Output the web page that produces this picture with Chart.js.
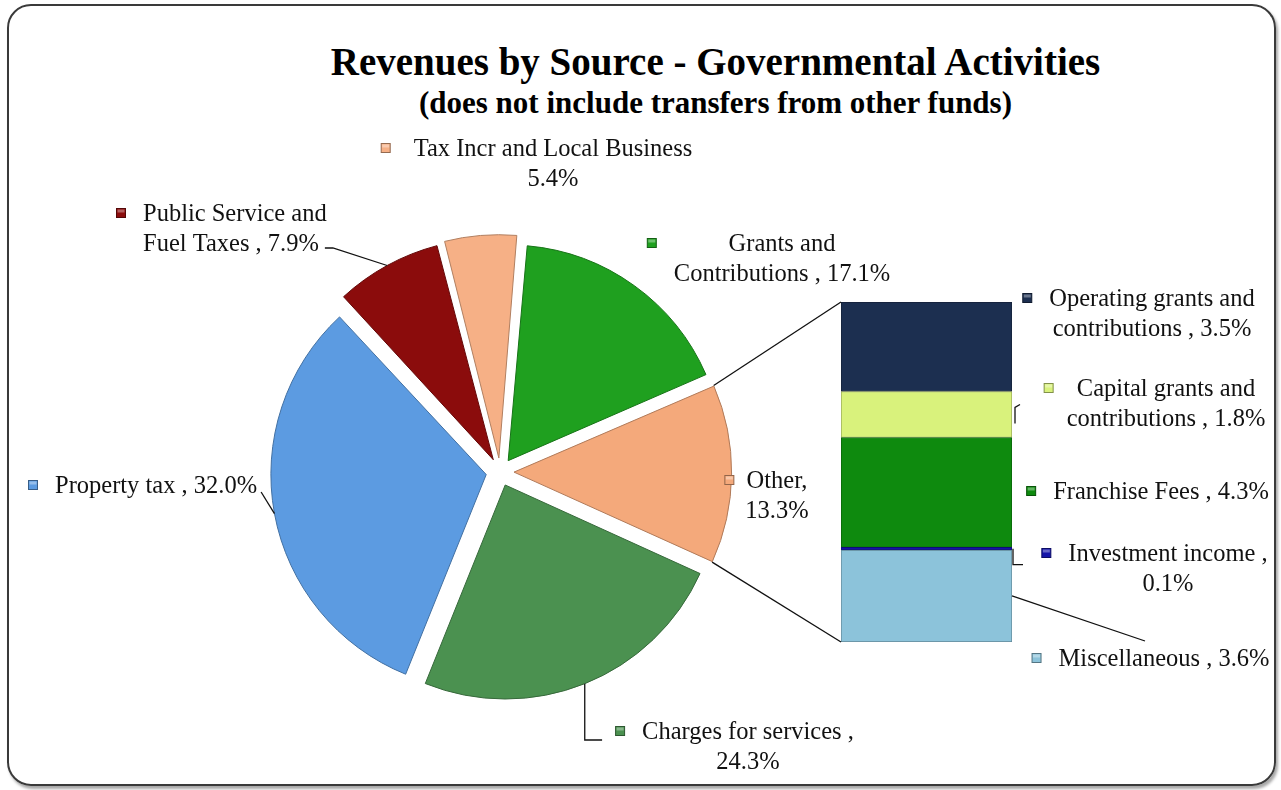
<!DOCTYPE html>
<html>
<head>
<meta charset="utf-8">
<script src="https://cdn.jsdelivr.net/npm/chart.js@4.4.0/dist/chart.umd.min.js"></script>
<style>
  html, body { margin: 0; padding: 0; background: #fff; }
  #wrap { position: relative; width: 1281px; height: 790px; overflow: hidden; background: #fff; }
  #frame { position: absolute; left: 7px; top: 4px; width: 1265px; height: 778px;
           border: 2px solid #3a3a3a; border-radius: 24px; box-shadow: 2px 3px 3px rgba(0,0,0,0.35); }
  .ttl { position: absolute; left: 150px; width: 1131px; text-align: center; color: #000;
         font-family: 'Liberation Serif', 'Times New Roman', serif; font-weight: bold; }
  #t1 { top: 39px; font-size: 39px; line-height: 45px; }
  #t2 { top: 85px; font-size: 31px; line-height: 36px; }
  canvas { position: absolute; left: 0; top: 0; }
</style>
</head>
<body>
<div id="wrap">
  <div id="frame"></div>
  <div class="ttl" id="t1">Revenues by Source - Governmental Activities</div>
  <div class="ttl" id="t2">(does not include transfers from other funds)</div>
  <canvas id="pie" width="1281" height="790"></canvas>
  <canvas id="bar" width="1281" height="790"></canvas>
</div>
<script>
// main pie (clockwise from the top)
const pieLabels = ['Grants and Contributions', 'Other', 'Charges for services', 'Property tax',
                   'Public Service and Fuel Taxes', 'Tax Incr and Local Business'];
const pieValues = [17.1, 13.3, 24.3, 32.0, 7.9, 5.4];
const pieColors = ['#1fa01f', '#f4a97b', '#4b9150', '#5c9be1', '#8b0c0c', '#f6b086'];

// breakdown of "Other" (bottom to top in the bar)
const otherLabels = ['Miscellaneous', 'Investment income', 'Franchise Fees',
                     'Capital grants and contributions', 'Operating grants and contributions'];
const otherValues = [3.6, 0.1, 4.3, 1.8, 3.5];
const otherColors = ['#8cc3da', '#1414a8', '#0e8a0e', '#d9f27c', '#1c2f50'];

const FONT = '24.5px "Liberation Serif", "Times New Roman", serif';
const LINE_H = 30;

// label placement, {v} is replaced by the value
const pieLabelPos = [
  { lines: ['Grants and', 'Contributions , {v}'], x: 782, y: 245, align: 'center' },
  { lines: ['Other,', '{v}'], x: 777, y: 482, align: 'center', gap: 16 },
  { lines: ['Charges for services ,', '{v}'], x: 748, y: 733, align: 'center', leader: 'elbow' },
  { lines: ['Property tax , {v}'], x: 55, y: 487, align: 'left', leader: 'direct' },
  { lines: ['Public Service and', 'Fuel Taxes , {v}'], x: 143, y: 215, align: 'left', leader: 'end' },
  { lines: ['Tax Incr and Local Business', '{v}'], x: 553, y: 150, align: 'center', gap: 28 }
];
const barLabelPos = [
  { lines: ['Miscellaneous , {v}'], x: 1164, y: 660, align: 'center', leader: 'line', to: [1145, 641] },
  { lines: ['Investment income ,', '{v}'], x: 1168, y: 555, align: 'center', leader: 'low' },
  { lines: ['Franchise Fees , {v}'], x: 1161, y: 493, align: 'center' },
  { lines: ['Capital grants and', 'contributions , {v}'], x: 1166, y: 390, align: 'center', leader: 'high', gap: 18 },
  { lines: ['Operating grants and', 'contributions , {v}'], x: 1152, y: 300, align: 'center' }
];

function shade(hex, f) {
  const n = parseInt(hex.slice(1), 16);
  const c = [(n >> 16) & 255, (n >> 8) & 255, n & 255].map(v => Math.round(f < 1 ? v * f : v + (255 - v) * (f - 1)));
  return 'rgb(' + c.join(',') + ')';
}

function marker(ctx, x, y, color) {
  ctx.save();
  ctx.fillStyle = color;
  ctx.fillRect(x - 4.5, y - 4.5, 9, 9);
  ctx.strokeStyle = shade(color, 0.6);
  ctx.lineWidth = 1;
  ctx.strokeRect(x - 4.5, y - 4.5, 9, 9);
  ctx.fillStyle = 'rgba(255,255,255,0.35)';
  ctx.fillRect(x - 3.5, y - 3.5, 7, 3);
  ctx.restore();
}

function drawBlock(ctx, spec, value, color) {
  const text = spec.lines.map(t => t.replace('{v}', value.toFixed(1) + '%'));
  ctx.save();
  ctx.font = FONT;
  ctx.fillStyle = '#111';
  ctx.textBaseline = 'middle';
  ctx.textAlign = spec.align;
  const widths = text.map(t => ctx.measureText(t).width);
  const maxW = Math.max(...widths);
  const left = spec.align === 'left' ? spec.x : spec.x - maxW / 2;
  text.forEach((t, i) => ctx.fillText(t, spec.x, spec.y + i * LINE_H));
  ctx.restore();
  const markX = left - (spec.gap || 22);
  marker(ctx, markX, spec.y - 2, color);
  const last = text.length - 1;
  const lastRight = spec.align === 'left' ? spec.x + widths[last] : spec.x + widths[last] / 2;
  return { left, markX, lastRight, lastY: spec.y + last * LINE_H };
}

// outer point of an exploded slice, same geometry the arc element uses
function arcPoint(arc, angle) {
  const off = (arc.options.offset || 0) / 4;
  const mid = (arc.startAngle + arc.endAngle) / 2;
  const fix = 1 - Math.sin(Math.min(Math.PI, arc.circumference));
  const r = arc.outerRadius + off * fix;
  return { x: arc.x + Math.cos(mid) * off + Math.cos(angle) * r,
           y: arc.y + Math.sin(mid) * off + Math.sin(angle) * r };
}

function polyline(ctx, pts) {
  ctx.save();
  ctx.strokeStyle = '#111';
  ctx.lineWidth = 1.3;
  ctx.beginPath();
  pts.forEach((p, i) => i ? ctx.lineTo(p[0], p[1]) : ctx.moveTo(p[0], p[1]));
  ctx.stroke();
  ctx.restore();
}

const pieLabelPlugin = {
  id: 'pieLabelPlugin',
  afterDraw(chart) {
    const ctx = chart.ctx;
    const arcs = chart.getDatasetMeta(0).data;
    arcs.forEach((arc, i) => {
      const spec = pieLabelPos[i];
      const b = drawBlock(ctx, spec, pieValues[i], pieColors[i]);
      const mid = (arc.startAngle + arc.endAngle) / 2;
      const p = arcPoint(arc, mid);
      if (spec.leader === 'end') {
        polyline(ctx, [[b.lastRight + 6, b.lastY + 3], [b.lastRight + 14, b.lastY + 3], [p.x, p.y]]);
      } else if (spec.leader === 'direct') {
        polyline(ctx, [[b.lastRight + 4, b.lastY + 5], [p.x, p.y]]);
      } else if (spec.leader === 'elbow') {
        polyline(ctx, [[p.x, p.y], [p.x, spec.y + 7], [b.markX - 18, spec.y + 7]]);
      }
    });
  }
};

const pieChart = new Chart(document.getElementById('pie'), {
  type: 'pie',
  data: {
    labels: pieLabels,
    datasets: [{
      data: pieValues,
      backgroundColor: pieColors,
      borderColor: pieColors.map(c => shade(c, 0.72)),
      borderWidth: 1,
      offset: 56
    }]
  },
  options: {
    responsive: false,
    animation: false,
    rotation: 5,
    layout: { padding: { left: 257.5, right: 538.5, top: 229.5, bottom: 75.5 } },
    plugins: { legend: { display: false }, title: { display: false }, tooltip: { enabled: false } }
  },
  plugins: [pieLabelPlugin]
});

const barLabelPlugin = {
  id: 'barLabelPlugin',
  afterDraw(chart) {
    const ctx = chart.ctx;
    const segs = otherValues.map((v, i) => chart.getDatasetMeta(i).data[0]);
    const right = segs[0].x + segs[0].width / 2;
    const left = segs[0].x - segs[0].width / 2;
    segs.forEach((s, i) => {
      const spec = barLabelPos[i];
      drawBlock(ctx, spec, otherValues[i], otherColors[i]);
      const mid = (s.y + s.base) / 2;
      if (spec.leader === 'line') polyline(ctx, [[right, mid], spec.to]);
      if (spec.leader === 'high') polyline(ctx, [[right + 8, mid - 10], [right + 3, mid - 7], [right + 3, mid + 9]]);
      if (spec.leader === 'low') polyline(ctx, [[right + 1, mid], [right + 1, mid + 16], [right + 11, mid + 16]]);
    });
    // connector lines from the "Other" slice to the bar
    const otherArc = pieChart.getDatasetMeta(0).data[pieLabels.indexOf('Other')];
    const a = arcPoint(otherArc, otherArc.startAngle);
    const b = arcPoint(otherArc, otherArc.endAngle);
    const top = segs[segs.length - 1].y;
    const bottom = segs[0].base;
    polyline(ctx, [[a.x, a.y], [left, top]]);
    polyline(ctx, [[b.x, b.y], [left, bottom]]);
  }
};

new Chart(document.getElementById('bar'), {
  type: 'bar',
  data: {
    labels: ['Other'],
    datasets: otherValues.map((v, i) => ({
      label: otherLabels[i],
      data: [v],
      backgroundColor: otherColors[i],
      borderColor: shade(otherColors[i], 0.7),
      borderWidth: 1,
      borderSkipped: false,
      barPercentage: 1,
      categoryPercentage: 1
    }))
  },
  options: {
    responsive: false,
    animation: false,
    layout: { padding: { left: 841, right: 269, top: 302, bottom: 148 } },
    scales: {
      x: { stacked: true, display: false },
      y: { stacked: true, display: false, min: 0, max: otherValues.reduce((s, v) => s + v, 0) }
    },
    plugins: { legend: { display: false }, title: { display: false }, tooltip: { enabled: false } }
  },
  plugins: [barLabelPlugin]
});
</script>
</body>
</html>
